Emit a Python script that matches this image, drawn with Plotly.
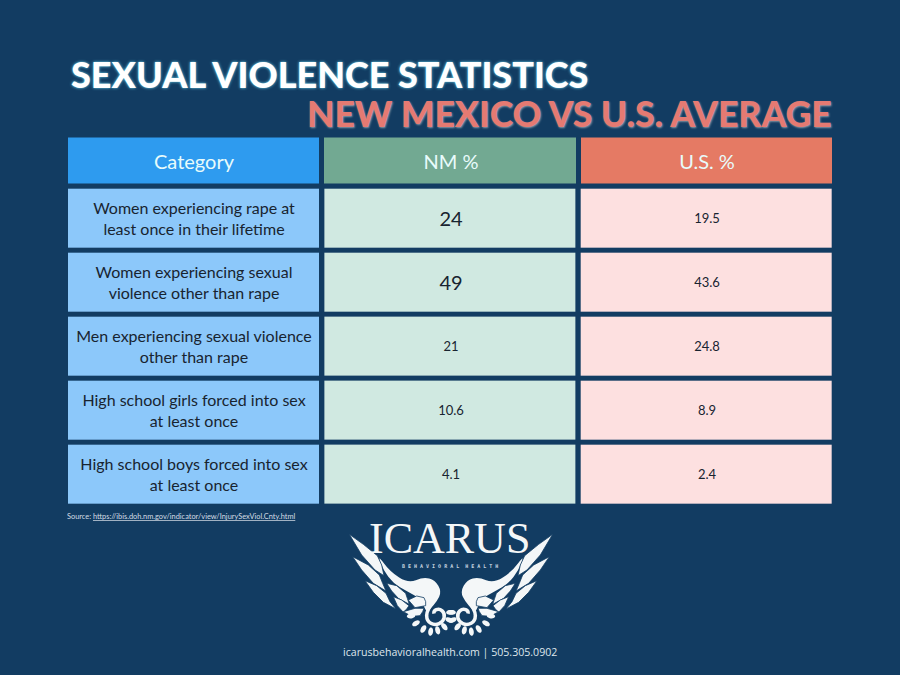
import math
import plotly.graph_objects as go

# table data
header = ["Category", "NM %", "U.S. %"]
categories = [
    "Women experiencing rape at<br>least once in their lifetime",
    "Women experiencing sexual<br>violence other than rape",
    "Men experiencing sexual violence<br>other than rape",
    "High school girls forced into sex<br>at least once",
    "High school boys forced into sex<br>at least once",
]
nm_values = ["24", "49", "21", "10.6", "4.1"]
us_values = ["19.5", "43.6", "24.8", "8.9", "2.4"]

NAVY = "#123c62"
WHITE = "#f4f7f8"
FONT = "Lato"
W, H = 900, 675


def px(x):
    return x / W


def py(y):
    return 1 - y / H


fig = go.Figure()


def add_block(col, first_row, texts, color, size):
    # one column of cells, rows first_row.. downwards
    n = len(texts)
    fig.add_trace(go.Heatmap(
        z=[[1]] * n, x=[col, col + 1], y=list(range(first_row, first_row + n + 1)),
        text=[[t] for t in texts], texttemplate="%{text}",
        textfont=dict(family=FONT, size=size, color="#182430"),
        colorscale=[[0, color], [1, color]],
        xgap=5, ygap=5, showscale=False, hoverinfo="skip",
    ))


# header row
fig.add_trace(go.Heatmap(
    z=[[0, 1, 2]], x=[0, 1, 2, 3], y=[-0.8, 0],
    text=[header], texttemplate="%{text}",
    textfont=dict(family=FONT, size=20, color="#e8fbfb"),
    colorscale=[[0, "#2e9bef"], [0.5, "#72a992"], [1, "#e57a64"]],
    zmin=0, zmax=2, xgap=5, ygap=5, showscale=False, hoverinfo="skip",
))
add_block(0, 0, categories, "#8cc8fa", 16)
add_block(1, 0, nm_values[:2], "#d0e9e1", 20)  # first two NM values are set larger
add_block(1, 2, nm_values[2:], "#d0e9e1", 13)
add_block(2, 0, us_values, "#fde0e0", 13)


def text(s, x, y, size, color, family=FONT, anchor="center", shadow=None, weight=None):
    fig.add_annotation(text=s, x=px(x), y=py(y), xref="paper", yref="paper",
                       xanchor=anchor, yanchor="middle", showarrow=False,
                       font=dict(family=family, size=size, color=color, shadow=shadow, weight=weight))


text("SEXUAL VIOLENCE STATISTICS", 69, 74, 36, "#ffffff", anchor="left", shadow="0 0 3px #6fdcf5", weight=900)
text("NEW MEXICO VS U.S. AVERAGE", 834, 113, 35.5, "#e57a72", anchor="right", shadow="1px 1px 2px #8a9aa8", weight=900)
text("Source: <u>https://ibis.doh.nm.gov/indicator/view/InjurySexViol.Cnty.html</u>", 65, 516, 7.4, "#d5dde5", anchor="left")
text("icarusbehavioralhealth.com | 505.305.0902", 450, 652, 10.6, "#dfe6ec", family="Open Sans")
text("ICARUS", 449, 538, 44, WHITE, family="Liberation Serif")
text("<b>B E H A V I O R A L  H E A L T H</b>", 450, 566, 5, "#c9d6e0", family="DejaVu Sans Mono")

# logo wing, left side
feathers = [
    [(28, 58), (70, 88), (112, 122), (125, 150), (132, 182), (105, 165), (65, 120)],
    [(38, 125), (85, 150), (118, 180), (128, 205), (138, 228), (100, 205), (65, 165)],
    [(75, 197), (110, 212), (138, 235), (150, 260), (168, 282), (130, 262), (100, 232)],
    [(140, 205), (170, 212), (197, 235), (202, 250), (208, 268), (175, 250), (155, 228)],
    [(160, 245), (185, 255), (207, 272), (200, 282), (190, 292), (172, 272)],
    [(205, 255), (230, 243), (252, 248), (257, 260), (257, 272), (225, 278)],
    [(190, 290), (225, 280), (252, 280), (248, 290), (240, 302), (215, 304)],
]
body = [(112, 118), (150, 170), (205, 205), (250, 186), (285, 195), (305, 230),
        (290, 260), (272, 280), (262, 295), (250, 270), (240, 250), (200, 228),
        (160, 205), (130, 165)]
curl = [(282, 255), (260, 285), (260, 318), (285, 332), (310, 320), (315, 295), (298, 280), (280, 288), (284, 304)]
petals = [(213, 303), (228, 325), (250, 342), (272, 350), (293, 346), (313, 335), (328, 315), (331, 292)]
PETAL_CENTER = (280, 295)


def pt(p, mirror):
    x = 340 + p[0] / 3
    y = 515 + p[1] / 3
    if mirror:
        x = 2 * 451 - x
    return f"{px(x):.5f},{py(y):.5f}"


def poly_path(pts, mirror):
    return "M" + " L".join(pt(p, mirror) for p in pts) + " Z"


def smooth_path(pts, mirror, close=True):
    # quadratic through the midpoints, so the outline has no corners
    mids = [((a[0] + b[0]) / 2, (a[1] + b[1]) / 2) for a, b in zip(pts, pts[1:] + pts[:1])]
    if close:
        d = "M" + pt(mids[-1], mirror)
        for p, m in zip(pts, mids):
            d += " Q" + pt(p, mirror) + " " + pt(m, mirror)
        return d + " Z"
    d = "M" + pt(pts[0], mirror)
    for p, m in zip(pts[1:-1], mids[1:-1]):
        d += " Q" + pt(p, mirror) + " " + pt(m, mirror)
    return d


def petal_pts(cx, cy):
    a = math.atan2(cy - PETAL_CENTER[1], cx - PETAL_CENTER[0])
    pts = []
    for k in range(12):
        t = 2 * math.pi * k / 12
        u, v = 13 * math.cos(t), 7.5 * math.sin(t)
        pts.append((cx + u * math.cos(a) - v * math.sin(a), cy + u * math.sin(a) + v * math.cos(a)))
    return pts


for mirror in (False, True):
    fig.add_shape(type="path", path=smooth_path(body, mirror), xref="paper", yref="paper",
                  fillcolor=WHITE, line=dict(width=0))
    for f in feathers:
        fig.add_shape(type="path", path=poly_path(f, mirror), xref="paper", yref="paper",
                      fillcolor=WHITE, line=dict(color=NAVY, width=0.8))
    for cx, cy in petals:
        fig.add_shape(type="path", path=smooth_path(petal_pts(cx, cy), mirror), xref="paper", yref="paper",
                      fillcolor=WHITE, line=dict(width=0))
    fig.add_shape(type="path", path=smooth_path(curl, mirror, close=False), xref="paper", yref="paper",
                  line=dict(color=WHITE, width=3.5))

fig.update_xaxes(visible=False, range=[0, 3], domain=[px(66), px(835)])
fig.update_yaxes(visible=False, range=[5, -0.8], domain=[py(506.5), py(135.5)])
fig.update_layout(width=W, height=H, margin=dict(l=0, r=0, t=0, b=0),
                  paper_bgcolor=NAVY, plot_bgcolor=NAVY)
fig.write_html("out.html", config=dict(displayModeBar=False),
               post_script="document.body.style.margin='0';document.body.style.overflow='hidden';")
